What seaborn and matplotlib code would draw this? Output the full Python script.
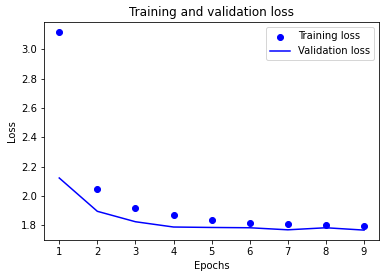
import matplotlib
matplotlib.use("Agg")
import matplotlib.pyplot as plt
import seaborn as sns
import pandas as pd

epochs = [1, 2, 3, 4, 5, 6, 7, 8, 9]
training_loss = [3.116, 2.050, 1.921, 1.873, 1.839, 1.818, 1.812, 1.805, 1.798]
validation_loss = [2.123, 1.896, 1.825, 1.789, 1.786, 1.784, 1.770, 1.784, 1.768]

df = pd.DataFrame({"epoch": epochs, "train": training_loss, "val": validation_loss})

plt.rcParams['font.family'] = ['DejaVu Sans']
fig, ax = plt.subplots(figsize=(386/72, 278/72), dpi=72)
fig.subplots_adjust(left=44/386, right=379.3/386, top=1-22.3/278, bottom=1-240/278)

sns.scatterplot(data=df, x="epoch", y="train", color=(0, 0, 1), s=36, linewidth=1,
                edgecolor=(0, 0, 1), label="Training loss", ax=ax, zorder=3)
sns.lineplot(data=df, x="epoch", y="val", color=(0, 0, 1), linewidth=1.5,
             label="Validation loss", ax=ax)

ax.set_title("Training and validation loss", fontsize=12)
ax.set_xlabel("Epochs", fontsize=10)
ax.set_ylabel("Loss", fontsize=10)
ax.tick_params(labelsize=10)
ax.set_xticks(epochs)
ax.margins(x=0.05, y=0.05)
ax.legend(loc="upper right", fontsize=10)

fig.savefig("out.png", dpi=72)
